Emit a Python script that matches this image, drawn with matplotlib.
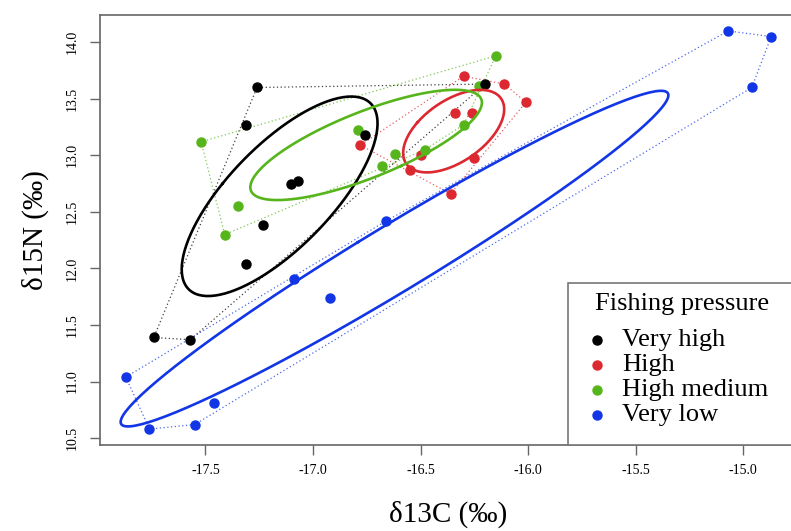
import numpy as np
import matplotlib
matplotlib.use("Agg")
import matplotlib.pyplot as plt
from matplotlib.patches import Rectangle

plt.rcParams['font.family'] = ['Liberation Serif', 'DejaVu Serif']

groups = ["Very high", "High", "High medium", "Very low"]
colors = ["#000000", "#DC2830", "#57B51C", "#1236E6"]

# d13C / d15N per fishing pressure group
very_high_c = [-17.26, -17.31, -16.76, -17.10, -17.07, -17.23, -17.31, -17.57, -17.74, -16.20]
very_high_n = [13.60, 13.27, 13.18, 12.75, 12.77, 12.38, 12.04, 11.37, 11.39, 13.63]

high_c = [-16.30, -16.11, -16.01, -16.34, -16.26, -16.50, -16.55, -16.25, -16.36, -16.78]
high_n = [13.70, 13.63, 13.47, 13.37, 13.37, 13.00, 12.87, 12.98, 12.66, 13.09]

high_med_c = [-17.52, -16.79, -17.35, -17.41, -16.30, -16.48, -16.62, -16.68, -16.15, -16.23]
high_med_n = [13.12, 13.22, 12.55, 12.30, 13.27, 13.05, 13.01, 12.91, 13.88, 13.61]

very_low_c = [-15.07, -14.87, -14.96, -17.09, -16.92, -16.66, -17.87, -17.76, -17.55, -17.46]
very_low_n = [14.10, 14.05, 13.60, 11.91, 11.74, 12.42, 11.04, 10.58, 10.62, 10.81]

data = [(very_high_c, very_high_n), (high_c, high_n),
        (high_med_c, high_med_n), (very_low_c, very_low_n)]


def convex_hull(x, y):
    pts = sorted(set(zip(x, y)))

    def cross(o, a, b):
        return (a[0] - o[0]) * (b[1] - o[1]) - (a[1] - o[1]) * (b[0] - o[0])

    lower, upper = [], []
    for p in pts:
        while len(lower) >= 2 and cross(lower[-2], lower[-1], p) <= 0:
            lower.pop()
        lower.append(p)
    for p in reversed(pts):
        while len(upper) >= 2 and cross(upper[-2], upper[-1], p) <= 0:
            upper.pop()
        upper.append(p)
    hull = lower[:-1] + upper[:-1]
    hull.append(hull[0])
    return np.array(hull)


def sea_c(x, y, npts=200):
    # small-sample corrected standard ellipse
    xy = np.column_stack([x, y])
    n = len(x)
    mu = xy.mean(axis=0)
    sigma = np.cov(xy, rowvar=False) * (n - 1) / (n - 2)
    vals, vecs = np.linalg.eigh(sigma)
    t = np.linspace(0, 2 * np.pi, npts)
    circle = np.column_stack([np.cos(t), np.sin(t)])
    return mu + circle @ (vecs * np.sqrt(vals)).T


fig = plt.figure(figsize=(7.91, 5.31), dpi=100)
ax = fig.add_axes([100 / 791, 86 / 531, 697 / 791, 430 / 531])

# points drawn so that green sits over red and black over green
for i in [3, 1, 2, 0]:
    cx, ny = data[i]
    ax.plot(cx, ny, ls='', marker='o', ms=6.5, color=colors[i], zorder=3)

for i, (cx, ny) in enumerate(data):
    e = sea_c(cx, ny)
    ax.plot(e[:, 0], e[:, 1], color=colors[i], lw=1.9, zorder=4)
    h = convex_hull(cx, ny)
    ax.plot(h[:, 0], h[:, 1], color=colors[i], lw=0.9, ls=(0, (1, 2)),
            alpha=0.75, zorder=2)

all_c = np.concatenate([d[0] for d in data])
all_n = np.concatenate([d[1] for d in data])
pad_c = 0.04 * (all_c.max() - all_c.min())
pad_n = 0.04 * (all_n.max() - all_n.min())
ax.set_xlim(all_c.min() - pad_c, all_c.max() + pad_c)
ax.set_ylim(all_n.min() - pad_n, all_n.max() + pad_n)

ax.set_xticks(np.arange(-17.5, -14.9, 0.5))
ax.set_yticks(np.arange(10.5, 14.1, 0.5))
ax.xaxis.set_major_formatter(plt.FormatStrFormatter('%.1f'))
ax.yaxis.set_major_formatter(plt.FormatStrFormatter('%.1f'))
ax.tick_params(direction='out', length=7, width=1, color='#666666',
               labelsize=10)
ax.tick_params(axis='x', pad=7)
ax.tick_params(axis='y', pad=8)
plt.setp(ax.get_yticklabels(), rotation=90, va='center')
for s in ax.spines.values():
    s.set_color('#666666')
    s.set_linewidth(1.2)

ax.set_xlabel("δ13C (‰)", fontsize=21, labelpad=17)
ax.set_ylabel("δ15N (‰)", fontsize=21, labelpad=12)

# legend box in the bottom-right corner, laid out by hand
box_left, box_top = 0.671, 0.377
ax.add_patch(Rectangle((box_left, 0), 1 - box_left, box_top,
                       transform=ax.transAxes, facecolor='white',
                       edgecolor='#777777', lw=1.2, zorder=5, clip_on=False))
ax.text((box_left + 1) / 2, 0.328, "Fishing pressure", transform=ax.transAxes,
        ha='center', va='center', fontsize=19, zorder=6)
row_step = 25 / 430
for k, (name, c) in enumerate(zip(groups, colors)):
    yk = 0.2442 - k * row_step
    ax.plot([0.713], [yk], ls='', marker='o', ms=6.5, color=c,
            transform=ax.transAxes, zorder=6, clip_on=False)
    ax.text(0.749, yk, name, transform=ax.transAxes, ha='left',
            va='center', fontsize=19, zorder=6)

fig.savefig("out.png", dpi=100)
